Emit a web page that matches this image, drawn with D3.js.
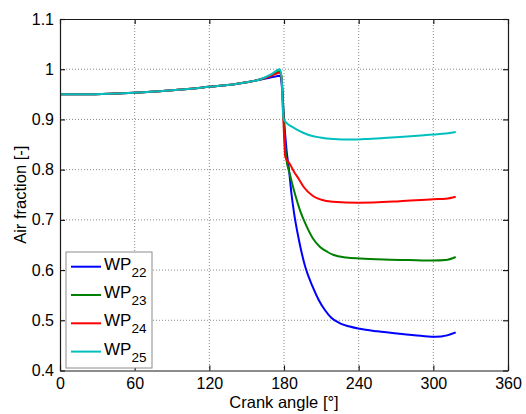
<!DOCTYPE html>
<html>
<head>
<meta charset="utf-8">
<script src="https://cdn.jsdelivr.net/npm/d3@7"></script>
<style>
  body { margin: 0; background: #fff; }
  svg { font-family: Arial, "Liberation Sans", sans-serif; }
  .grid line { stroke: #8a8a8a; stroke-width: 1; stroke-dasharray: 1,2; }
</style>
</head>
<body>
<div class="chart"></div>
<script>
// chart size
var width = 526,
	height = 414;
var plot = { left: 60, right: 508, top: 19, bottom: 370.5 };

// ticks
var xTicks = [0, 60, 120, 180, 240, 300, 360];
var yTicks = [0.4, 0.5, 0.6, 0.7, 0.8, 0.9, 1, 1.1];

// shared intake part (all cases overlap)
var baseAngle = [0, 20, 40, 60, 80, 100, 120, 140, 150, 160];
var baseAir = [0.950, 0.950, 0.951, 0.953, 0.956, 0.960, 0.965, 0.970, 0.974, 0.979];

// WP22
var wp22Angle = [170, 177, 178.5, 180, 182, 184, 186, 188, 192, 197, 203, 208, 213, 218, 225, 232, 241, 255, 273, 290, 302, 311, 318];
var wp22Air = [0.984, 0.987, 0.960, 0.900, 0.840, 0.800, 0.752, 0.715, 0.660, 0.607, 0.567, 0.540, 0.520, 0.505, 0.494, 0.488, 0.483, 0.478, 0.473, 0.469, 0.467, 0.470, 0.476];

// WP23
var wp23Angle = [170, 177, 178.5, 180, 181.6, 185, 189, 193, 198, 203, 209, 215, 220, 230, 241, 260, 280, 300, 310, 318];
var wp23Air = [0.988, 0.996, 0.970, 0.890, 0.826, 0.788, 0.750, 0.718, 0.688, 0.664, 0.646, 0.636, 0.630, 0.625, 0.623, 0.621, 0.620, 0.619, 0.620, 0.626];

// WP24
var wp24Angle = [170, 176.5, 178, 179, 180, 181, 185, 188, 191.5, 196, 203, 210, 219, 240, 273, 300, 310, 318];
var wp24Air = [0.987, 0.993, 0.985, 0.930, 0.870, 0.826, 0.810, 0.796, 0.783, 0.765, 0.748, 0.740, 0.736, 0.734, 0.737, 0.741, 0.742, 0.746];

// WP25
var wp25Angle = [170, 176.5, 178, 179.5, 182, 186, 190, 195, 200, 209, 220, 233, 245, 260, 273, 290, 300, 310, 318];
var wp25Air = [0.990, 1.000, 0.985, 0.902, 0.893, 0.886, 0.880, 0.874, 0.869, 0.864, 0.861, 0.860, 0.861, 0.863, 0.865, 0.868, 0.870, 0.872, 0.875];

var seriesNames = ["22", "23", "24", "25"];
var seriesColors = ["#0000ff", "#008000", "#ff0000", "#00bfbf"];
var seriesAngles = [wp22Angle, wp23Angle, wp24Angle, wp25Angle];
var seriesAirs = [wp22Air, wp23Air, wp24Air, wp25Air];

// build point lists
var series = seriesNames.map(function (name, i) {
	var pts = baseAngle.map(function (a, j) { return { x: a, y: baseAir[j] }; });
	seriesAngles[i].forEach(function (a, j) { pts.push({ x: a, y: seriesAirs[i][j] }); });
	return { name: name, color: seriesColors[i], points: pts };
});

var xScale = d3.scaleLinear().domain([0, 360]).range([plot.left, plot.right]);
var yScale = d3.scaleLinear().domain([0.4, 1.1]).range([plot.bottom, plot.top]);

var svg = d3.select(".chart").append("svg")
	.attr("width", width)
	.attr("height", height);

svg.append("rect")
	.attr("width", width)
	.attr("height", height)
	.attr("fill", "#fff");

// grid
var grid = svg.append("g").attr("class", "grid");
grid.selectAll(".gx")
	.data(xTicks.slice(1, -1))
	.enter().append("line")
	.attr("x1", function (d) { return xScale(d); })
	.attr("x2", function (d) { return xScale(d); })
	.attr("y1", plot.top)
	.attr("y2", plot.bottom);
grid.selectAll(".gy")
	.data(yTicks.slice(1, -1))
	.enter().append("line")
	.attr("x1", plot.left)
	.attr("x2", plot.right)
	.attr("y1", function (d) { return yScale(d); })
	.attr("y2", function (d) { return yScale(d); });

// curves
var line = d3.line()
	.x(function (d) { return xScale(d.x); })
	.y(function (d) { return yScale(d.y); })
	.curve(d3.curveMonotoneX);

svg.selectAll(".curve")
	.data(series)
	.enter().append("path")
	.attr("class", "curve")
	.attr("d", function (d) { return line(d.points); })
	.attr("fill", "none")
	.attr("stroke", function (d) { return d.color; })
	.attr("stroke-width", 2)
	.attr("stroke-linejoin", "round");

// axes (inward ticks on all sides, MATLAB box)
var tickLen = 5;
var xBottom = d3.axisBottom(xScale).tickValues(xTicks).tickSizeInner(-tickLen).tickSizeOuter(0).tickPadding(7)
	.tickFormat(d3.format("d"));
var xTop = d3.axisTop(xScale).tickValues(xTicks).tickSizeInner(-tickLen).tickSizeOuter(0).tickFormat("");
var yLeft = d3.axisLeft(yScale).tickValues(yTicks).tickSizeInner(-tickLen).tickSizeOuter(0).tickPadding(6)
	.tickFormat(function (d) { return d3.format("")(+d.toFixed(1)); });
var yRight = d3.axisRight(yScale).tickValues(yTicks).tickSizeInner(-tickLen).tickSizeOuter(0).tickFormat("");

var axes = [
	svg.append("g").attr("transform", "translate(0," + plot.bottom + ")").call(xBottom),
	svg.append("g").attr("transform", "translate(0," + plot.top + ")").call(xTop),
	svg.append("g").attr("transform", "translate(" + plot.left + ",0)").call(yLeft),
	svg.append("g").attr("transform", "translate(" + plot.right + ",0)").call(yRight)
];
axes.forEach(function (g) {
	g.selectAll("path, line").attr("stroke", "#1a1a1a").attr("stroke-width", 1.2);
	g.selectAll("text").attr("fill", "#000").style("font-size", "16px").style("font-family", "Arial, 'Liberation Sans', sans-serif");
});

// axis titles
svg.append("text")
	.attr("x", (plot.left + plot.right) / 2)
	.attr("y", 408)
	.attr("text-anchor", "middle")
	.style("font-size", "16.5px")
	.text("Crank angle [°]");

svg.append("text")
	.attr("transform", "translate(26," + (plot.top + plot.bottom) / 2 + ") rotate(-90)")
	.attr("text-anchor", "middle")
	.style("font-size", "16.5px")
	.text("Air fraction [-]");

// legend
var legend = svg.append("g").attr("class", "legend");
legend.append("rect")
	.attr("x", 66)
	.attr("y", 252)
	.attr("width", 86)
	.attr("height", 116)
	.attr("fill", "#fff")
	.attr("stroke", "#8c8c8c")
	.attr("stroke-width", 1);

var entry = legend.selectAll(".entry")
	.data(series)
	.enter().append("g")
	.attr("class", "entry")
	.attr("transform", function (d, i) { return "translate(0," + (266.7 + i * 28.3) + ")"; });

entry.append("line")
	.attr("x1", 71)
	.attr("x2", 101)
	.attr("stroke", function (d) { return d.color; })
	.attr("stroke-width", 2);

var label = entry.append("text")
	.attr("x", 104)
	.attr("y", 3)
	.style("font-size", "17px");
label.append("tspan").text("WP");
label.append("tspan")
	.attr("dy", 7)
	.style("font-size", "13.5px")
	.text(function (d) { return d.name; });
</script>
</body>
</html>
